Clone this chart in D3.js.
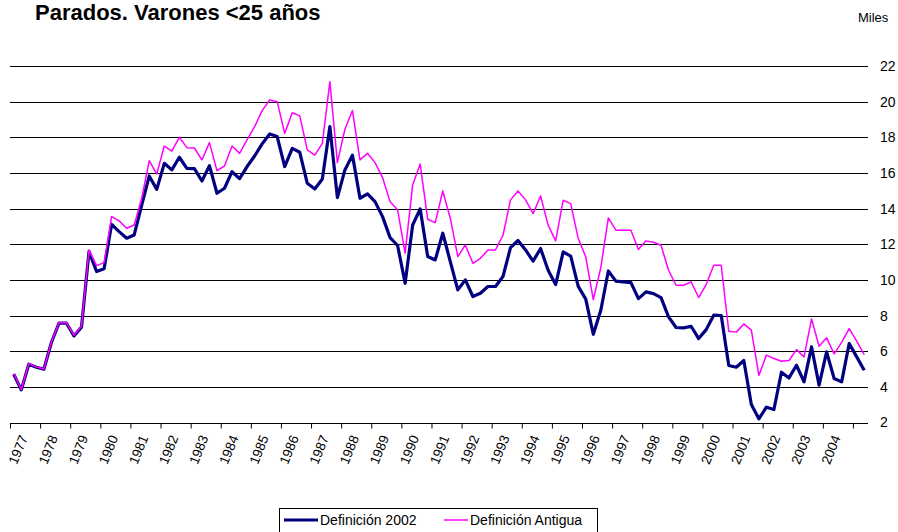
<!DOCTYPE html>
<html>
<head>
<meta charset="utf-8">
<script src="https://cdn.jsdelivr.net/npm/d3@7"></script>
<style>
  html, body { margin: 0; padding: 0; background: #fff; }
  svg { display: block; font-family: "Liberation Sans", Arial, sans-serif; }
</style>
</head>
<body>
<svg id="chart" width="898" height="532"></svg>
<script>
// ---- Data (quarterly, 1976-III .. 2004-IV), thousands ----
const yearLabels = ["1977","1978","1979","1980","1981","1982","1983","1984","1985","1986","1987","1988","1989","1990","1991","1992","1993","1994","1995","1996","1997","1998","1999","2000","2001","2002","2003","2004"];
const yTicks = [2,4,6,8,10,12,14,16,18,20,22];
const seriesNames = ["Definición 2002", "Definición Antigua"];
const def2002 = [
  4.71,3.83,5.27,5.10,4.99,6.49,7.57,7.57,6.86,7.35,
  11.6,10.47,10.62,13.12,12.71,12.34,12.52,14.2,15.83,15.08,
  16.54,16.17,16.88,16.26,16.24,15.55,16.41,14.86,15.14,16.07,
  15.68,16.36,16.95,17.63,18.19,18.04,16.36,17.38,17.16,15.42,
  15.1,15.66,18.6,14.62,16.17,17.0,14.58,14.82,14.39,13.55,
  12.37,11.93,9.81,13.08,13.98,11.31,11.12,12.62,11.03,9.44,
  10.0,9.07,9.25,9.63,9.63,10.19,11.81,12.21,11.68,11.05,
  11.76,10.54,9.74,11.57,11.33,9.64,8.92,6.95,8.3,10.5,
  9.93,9.89,9.85,8.95,9.33,9.23,9.01,7.93,7.33,7.31,
  7.4,6.71,7.21,8.02,8.0,5.2,5.1,5.48,3.01,2.21,
  2.86,2.73,4.82,4.5,5.21,4.28,6.24,4.09,5.96,4.47,
  4.28,6.43,5.68,4.93
];
const defAntigua = [
  4.75,3.85,5.3,5.12,5.0,6.5,7.6,7.6,6.9,7.4,
  11.68,10.8,10.97,13.55,13.31,12.9,13.08,14.58,16.69,15.94,
  17.51,17.23,18.0,17.42,17.4,16.73,17.7,16.13,16.39,17.51,
  17.1,17.85,18.6,19.5,20.09,20.0,18.22,19.38,19.2,17.29,
  17.0,17.66,21.12,16.58,18.45,19.5,16.73,17.1,16.58,15.74,
  14.39,13.93,11.5,15.33,16.5,13.4,13.21,14.99,13.46,11.31,
  11.96,10.93,11.21,11.68,11.68,12.49,14.49,14.99,14.49,13.72,
  14.71,13.07,12.19,14.47,14.28,12.32,11.29,8.9,10.69,13.48,
  12.79,12.79,12.79,11.7,12.19,12.11,11.94,10.54,9.7,9.7,
  9.89,9.01,9.74,10.82,10.82,7.12,7.07,7.53,7.18,4.64,
  5.78,5.59,5.44,5.48,6.09,5.68,7.81,6.28,6.75,5.85,
  6.5,7.27,6.56,5.81
];
const colors = ["#000080", "#FF00FF"];

// ---- Layout ----
const svg = d3.select("#chart");
const mLeft = 10, mRight = 868, mTop = 66, mBottom = 422.5;
const n = def2002.length;

const x = d3.scaleLinear().domain([0, n]).range([mLeft, mRight]);
const y = d3.scaleLinear().domain([2, 22]).range([mBottom, mTop]);

// Title
svg.append("text").attr("x", 35).attr("y", 20)
  .attr("font-size", 22).attr("font-weight", "bold").attr("fill", "#000")
  .text("Parados. Varones <25 años");
svg.append("text").attr("x", 858).attr("y", 22)
  .attr("font-size", 13).attr("fill", "#000").text("Miles");

// Gridlines
svg.append("g").selectAll("line").data(yTicks.filter(d => d > 2)).join("line")
  .attr("x1", mLeft).attr("x2", mRight)
  .attr("y1", d => Math.round(y(d)) + 0.5).attr("y2", d => Math.round(y(d)) + 0.5)
  .attr("stroke", "#000").attr("stroke-width", 1);

// Y axis labels (right)
const yAxis = d3.axisRight(y).tickValues(yTicks).tickSize(0).tickPadding(0);
const gy = svg.append("g").attr("transform", `translate(880,0)`).call(yAxis);
gy.select(".domain").remove();
gy.selectAll("text").attr("font-size", 14).attr("font-family", "Liberation Sans, Arial, sans-serif").attr("fill", "#000");

// X axis
const tickIdx = d3.range(0, n - 1, 4);
const xAxis = d3.axisBottom(x).tickValues(tickIdx).tickSize(5).tickFormat("");
const gx = svg.append("g").attr("transform", `translate(0,${Math.round(mBottom) + 0.5})`).call(xAxis);
gx.select(".domain").attr("d", `M${mLeft},0H${mRight}`).attr("stroke", "#000");
gx.selectAll(".tick line").attr("stroke", "#000");

// Year labels
svg.append("g").selectAll("text").data(yearLabels).join("text")
  .attr("transform", (d, i) => `translate(${x(i * 4 + 2) + 3},${mBottom + 15}) rotate(-68)`)
  .attr("text-anchor", "end")
  .attr("font-size", 13.5).attr("fill", "#000")
  .text(d => d);

// Lines
const line = d3.line().x((d, i) => x(i + 0.5)).y(d => y(d));
svg.append("path").datum(def2002).attr("d", line)
  .attr("fill", "none").attr("stroke", colors[0]).attr("stroke-width", 3.2)
  .attr("stroke-linejoin", "round");
svg.append("path").datum(defAntigua).attr("d", line)
  .attr("fill", "none").attr("stroke", colors[1]).attr("stroke-width", 1.5)
  .attr("stroke-linejoin", "round");

// Legend
const lg = svg.append("g");
lg.append("rect").attr("x", 279.5).attr("y", 508.5).attr("width", 318).attr("height", 30)
  .attr("fill", "#fff").attr("stroke", "#000").attr("stroke-width", 1);
const legItems = [
  {name: seriesNames[0], color: colors[0], w: 3.2, x1: 284, x2: 318, tx: 320},
  {name: seriesNames[1], color: colors[1], w: 1.5, x1: 444, x2: 468, tx: 470}
];
legItems.forEach(it => {
  lg.append("line").attr("x1", it.x1).attr("x2", it.x2).attr("y1", 520).attr("y2", 520)
    .attr("stroke", it.color).attr("stroke-width", it.w);
  lg.append("text").attr("x", it.tx).attr("y", 525).attr("font-size", 14).attr("fill", "#000").text(it.name);
});
</script>
</body>
</html>
